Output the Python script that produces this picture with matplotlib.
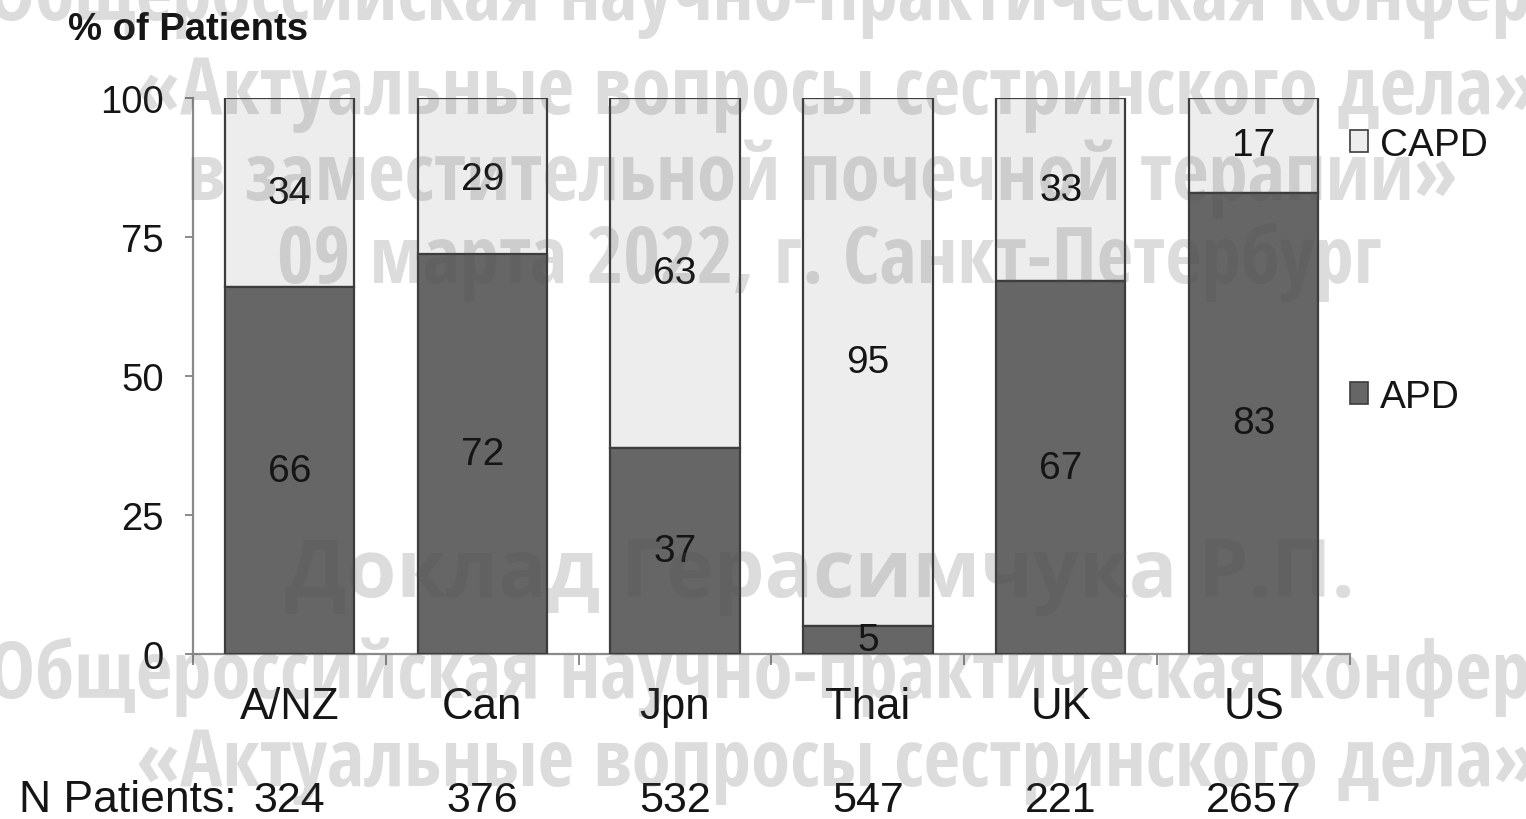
import matplotlib

matplotlib.use("Agg")

import matplotlib.pyplot as plt
from matplotlib import font_manager
from matplotlib.font_manager import FontProperties
from matplotlib.patches import Patch
from matplotlib.transforms import blended_transform_factory


COUNTRIES = ["A/NZ", "Can", "Jpn", "Thai", "UK", "US"]
APD = [66, 72, 37, 5, 67, 83]
CAPD = [34, 29, 63, 95, 33, 17]
N_PATIENTS = [324, 376, 532, 547, 221, 2657]
Y_TICKS = [0, 25, 50, 75, 100]

# conference stamp laid over the slide: text, x, baseline y (px), alignment
CONF_LINES = [
    ("Общероссийская научно-практическая конференция", -12, 20, "left"),
    ("«Актуальные вопросы сестринского дела»", 136, 114, "left"),
    ("в заместительной почечной терапии»", 822, 200, "center"),
    ("09 марта 2022, г. Санкт-Петербург", 829, 283, "center"),
    ("Общероссийская научно-практическая конференция", -12, 698, "left"),
    ("«Актуальные вопросы сестринского дела»", 136, 786, "left"),
]
SPEAKER_LINE = ("Доклад Герасимчука Р.П.", 820, 597)

APD_COLOR = "#666666"
CAPD_COLOR = "#ededed"
EDGE_COLOR = "#3c3c3c"
AXIS_COLOR = "#8a8a8a"
TEXT_COLOR = "#151515"
STAMP_COLOR = "#505050"

W, H = 1526, 820


def first_font(names, fallback):
    for name in names:
        try:
            font_manager.findfont(FontProperties(family=name, weight="bold"),
                                  fallback_to_default=False)
            return name
        except ValueError:
            pass
    return fallback


NARROW = first_font(["Liberation Sans Narrow", "Open Sans Condensed",
                     "Roboto Condensed"], "Liberation Sans")

plt.rcParams["font.family"] = ["Liberation Sans", "DejaVu Sans"]

fig = plt.figure(figsize=(W / 100, H / 100), dpi=100)
ax = fig.add_axes([193 / W, 1 - 655 / H, (1350 - 193) / W, (655 - 99) / H])

x = list(range(len(COUNTRIES)))
width = 0.67

# CAPD hangs from the 100% line, APD stands on zero and covers any overlap
capd_bottom = [100 - v for v in CAPD]
ax.bar(x, CAPD, width, bottom=capd_bottom, color=CAPD_COLOR,
       edgecolor=EDGE_COLOR, linewidth=1.6, zorder=2)
ax.bar(x, APD, width, color=APD_COLOR, edgecolor=EDGE_COLOR,
       linewidth=1.6, zorder=3)

for i in x:
    ax.text(i, APD[i] / 2, str(APD[i]), ha="center", va="center",
            fontsize=28, color=TEXT_COLOR, zorder=4)
    ax.text(i, 100 - CAPD[i] / 2, str(CAPD[i]), ha="center", va="center",
            fontsize=28, color=TEXT_COLOR, zorder=4)

ax.set_xlim(-0.5, len(COUNTRIES) - 0.5)
ax.set_ylim(0, 100)

ax.set_yticks(Y_TICKS)
ax.set_yticklabels([str(t) for t in Y_TICKS])
ax.tick_params(axis="y", length=6, width=1.4, color=AXIS_COLOR, pad=15,
               labelsize=27.5, labelcolor=TEXT_COLOR)

ax.set_xticks(x)
ax.set_xticklabels(COUNTRIES)
ax.set_xticks([i - 0.5 for i in range(len(COUNTRIES) + 1)], minor=True)
ax.tick_params(axis="x", which="major", length=0, pad=23, labelsize=31.5,
               labelcolor=TEXT_COLOR)
ax.tick_params(axis="x", which="minor", length=8, width=1.4, color=AXIS_COLOR)

for side in ["top", "right"]:
    ax.spines[side].set_visible(False)
for side in ["left", "bottom"]:
    ax.spines[side].set_color(AXIS_COLOR)
    ax.spines[side].set_linewidth(1.6)

fig.text(68 / W, 1 - 30 / H, "% of Patients", fontsize=27.5, fontweight="bold",
         color=TEXT_COLOR, ha="left", va="center")

# patient counts under each country
row = blended_transform_factory(ax.transData, fig.transFigure)
fig.text(19 / W, 1 - 801 / H, "N Patients:", fontsize=32, color=TEXT_COLOR,
         ha="left", va="center")
for i, n in enumerate(N_PATIENTS):
    ax.text(i, 1 - 801 / H, str(n), transform=row, fontsize=31,
            color=TEXT_COLOR, ha="center", va="center", clip_on=False)

handles = [
    Patch(facecolor=CAPD_COLOR, edgecolor=EDGE_COLOR, linewidth=1.2, label="CAPD"),
    Patch(facecolor=APD_COLOR, edgecolor=EDGE_COLOR, linewidth=1.2, label="APD"),
]
fig.legend(handles=handles, loc="upper left",
           bbox_to_anchor=(1350 / W, 1 - 128 / H), frameon=False,
           fontsize=28, handlelength=0.47, handleheight=0.47,
           handletextpad=0.3, labelspacing=5.55, borderpad=0,
           borderaxespad=0, labelcolor=TEXT_COLOR)

for text, px, py, align in CONF_LINES:
    fig.text(px / W, 1 - py / H, text, fontsize=57, fontfamily=NARROW,
             fontweight="bold", color=STAMP_COLOR, alpha=0.2, ha=align,
             va="baseline", zorder=10)

text, px, py = SPEAKER_LINE
fig.text(px / W, 1 - py / H, text, fontsize=58, fontfamily="Open Sans",
         fontweight="bold", color=STAMP_COLOR, alpha=0.2, ha="center",
         va="baseline", zorder=10)

fig.savefig("out.png", dpi=100)
